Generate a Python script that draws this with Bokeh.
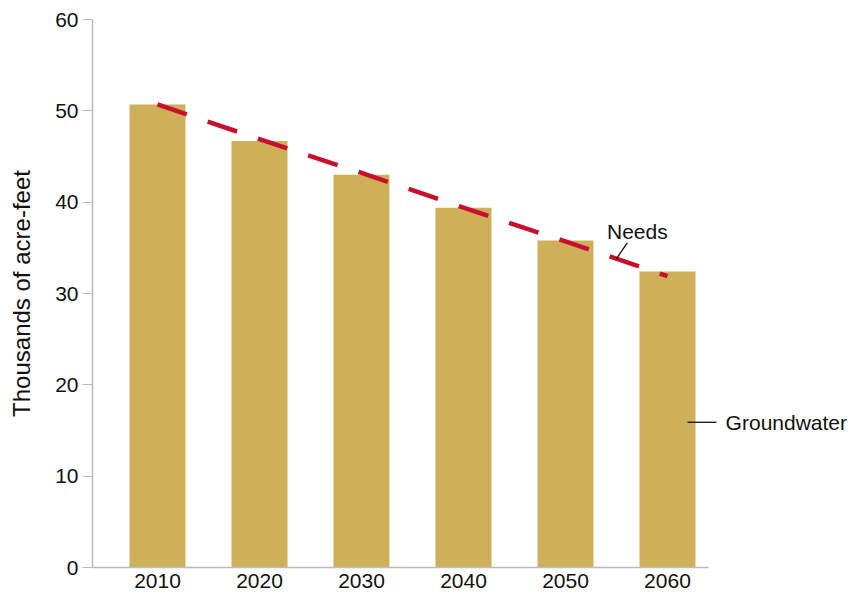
from bokeh.plotting import figure
from bokeh.models import Range1d, FixedTicker, Label, Arrow
from bokeh.embed import file_html
from bokeh.resources import INLINE

# ---- data ----
years = [2010, 2020, 2030, 2040, 2050, 2060]
groundwater = [50.7, 46.7, 43.0, 39.4, 35.8, 32.4]
needs = [50.7, 46.9, 43.2, 39.4, 35.7, 31.9]
y_ticks = [0, 10, 20, 30, 40, 50, 60]
y_label = "Thousands of acre-feet"
needs_label = "Needs"
groundwater_label = "Groundwater"

BAR = "#CFB05A"
RED = "#C8102E"
AXIS = "#BBBBBB"
TXT = "#111111"
FONT = "Liberation Sans"

X0, X1 = 2003.627, 2064.02      # extent of the drawn x axis
XEND = 2078.63                  # frame continues to the right for the labels

p = figure(width=857, height=596, output_backend="svg", toolbar_location=None,
           x_range=Range1d(X0, XEND), y_range=Range1d(0, 60),
           min_border_left=92, min_border_right=0, min_border_top=19,
           min_border_bottom=29)
p.outline_line_color = None
p.grid.visible = False
p.background_fill_color = "white"
p.border_fill_color = "white"

p.vbar(x=years, top=groundwater, width=5.49, fill_color=BAR, line_color=None)
p.line(x=years, y=needs, line_color=RED, line_width=4.5, line_dash="31 22")

# axes
xa = p.xaxis[0]
xa.ticker = FixedTicker(ticks=years)
xa.bounds = (X0, X1)
xa.major_tick_out = 0
xa.major_tick_in = 0
xa.minor_tick_line_color = None
xa.axis_line_color = AXIS
xa.axis_line_width = 1.5
xa.major_label_text_font = FONT
xa.major_label_text_font_size = "21px"
xa.major_label_text_color = TXT
xa.major_label_standoff = 6

ya = p.yaxis[0]
ya.ticker = FixedTicker(ticks=y_ticks)
ya.major_tick_out = 10
ya.major_tick_in = 0
ya.major_tick_line_color = AXIS
ya.major_tick_line_width = 1.2
ya.minor_tick_line_color = None
ya.axis_line_color = AXIS
ya.axis_line_width = 1.5
ya.major_label_text_font = FONT
ya.major_label_text_font_size = "21px"
ya.major_label_text_color = TXT
ya.major_label_standoff = 4
ya.axis_label = y_label
ya.axis_label_text_font = FONT
ya.axis_label_text_font_size = "24px"
ya.axis_label_text_font_style = "normal"
ya.axis_label_text_color = TXT
ya.axis_label_standoff = 17

# annotations
p.add_layout(Label(x=2054.07, y=36.8, text=needs_label, text_font=FONT,
                   text_font_size="21px", text_color=TXT,
                   text_baseline="alphabetic", text_align="left"))
p.add_layout(Arrow(end=None, x_start=2056.05, y_start=35.55, x_end=2055.0, y_end=33.8,
                   line_color=TXT, line_width=1.3))
p.add_layout(Label(x=2065.7, y=15.9, text=groundwater_label, text_font=FONT,
                   text_font_size="21px", text_color=TXT,
                   text_baseline="middle", text_align="left"))
p.add_layout(Arrow(end=None, x_start=2061.96, y_start=15.9, x_end=2064.8, y_end=15.9,
                   line_color=TXT, line_width=1.3))

open("out.html", "w").write(file_html(p, INLINE))
